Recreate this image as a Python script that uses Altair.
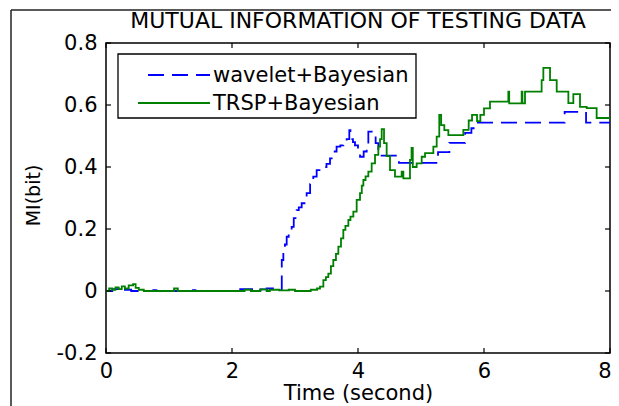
import altair as alt
import pandas as pd

# ---------------- data ----------------
series_names = ["wavelet+Bayesian", "TRSP+Bayesian"]
series_colors = ["#0000ff", "#008000"]

wave_t = [0.0, 0.1, 0.2, 0.3, 0.4, 0.75, 0.8, 1.38, 1.42, 2.13, 2.35, 2.45, 2.55, 2.72,
          2.79, 2.815, 2.84, 2.868, 2.9, 2.947, 2.98, 3.026, 3.06, 3.106, 3.15, 3.185,
          3.24, 3.29, 3.344, 3.423, 3.5, 3.556, 3.61, 3.66, 3.72, 3.767, 3.82, 3.862,
          3.88, 3.92, 3.952, 4.0, 4.032, 4.09, 4.138, 4.164, 4.243, 4.28, 4.323, 4.65,
          5.27, 5.45, 5.7, 5.8, 5.88, 7.28, 7.62, 8.0]
wave_v = [0.0, 0.006, 0.012, 0.004, 0.0, 0.003, 0.0, 0.003, 0.0, 0.006, 0.002, 0.005, 0.008, 0.003,
          0.10, 0.13, 0.15, 0.175, 0.19, 0.207, 0.235, 0.261, 0.27, 0.283, 0.30, 0.316,
          0.345, 0.369, 0.39, 0.40, 0.41, 0.428, 0.45, 0.466, 0.47, 0.477, 0.49, 0.519,
          0.49, 0.48, 0.47, 0.45, 0.433, 0.45, 0.47, 0.514, 0.50, 0.477, 0.437, 0.413,
          0.448, 0.478, 0.51, 0.525, 0.543, 0.578, 0.543, 0.543]

trsp_t = [0.0, 0.05, 0.1, 0.15, 0.2, 0.25, 0.3, 0.36, 0.43, 0.47, 0.52, 0.6, 1.08, 1.14,
          2.2, 2.3, 2.45, 2.55, 2.6, 2.75, 2.9, 3.0, 3.25, 3.35, 3.397, 3.45, 3.49, 3.529,
          3.57, 3.608, 3.65, 3.688, 3.73, 3.767, 3.8, 3.847, 3.88, 3.926, 3.979, 4.032,
          4.06, 4.085, 4.12, 4.164, 4.217, 4.27, 4.323, 4.35, 4.376, 4.413, 4.455, 4.508,
          4.587, 4.693, 4.72, 4.825, 4.85, 4.87, 4.931, 5.011, 5.064, 5.196, 5.249, 5.29,
          5.32, 5.37, 5.434, 5.672, 5.757, 5.81, 5.889, 5.942, 6.0, 6.095, 6.386, 6.40,
          6.598, 6.61, 6.651, 6.915, 6.942, 7.048, 7.154, 7.339, 7.418, 7.524, 7.63, 7.788, 8.0]
trsp_v = [0.0, 0.008, 0.004, 0.012, 0.006, 0.015, 0.008, 0.018, 0.022, 0.01, 0.004, 0.0, 0.008, 0.0,
          0.004, 0.0, 0.005, 0.0, 0.004, 0.002, 0.004, 0.0, 0.004, 0.008, 0.014, 0.035, 0.045, 0.056,
          0.08, 0.10, 0.12, 0.143, 0.17, 0.197, 0.21, 0.229, 0.24, 0.256, 0.294, 0.316,
          0.34, 0.358, 0.37, 0.385, 0.412, 0.439, 0.466, 0.49, 0.522, 0.477, 0.435, 0.39,
          0.369, 0.385, 0.363, 0.423, 0.462, 0.40, 0.412, 0.433, 0.445, 0.466, 0.498, 0.568,
          0.535, 0.519, 0.503, 0.52, 0.55, 0.568, 0.548, 0.568, 0.589, 0.611, 0.643, 0.605,
          0.643, 0.605, 0.643, 0.68, 0.72, 0.68, 0.643, 0.606, 0.635, 0.594, 0.59, 0.558, 0.558]

x_ticks = [0, 2, 4, 6, 8]
y_ticks = [-0.2, 0, 0.2, 0.4, 0.6, 0.8]
chart_title = "MUTUAL INFORMATION OF TESTING DATA"
x_title = "Time (second)"
y_title = "MI(bit)"

# ---------------- chart ----------------
W, H = 504, 310
FONT = "DejaVu Sans"
LW = 1.8

wave_df = pd.DataFrame({"t": wave_t, "v": wave_v})
trsp_df = pd.DataFrame({"t": trsp_t, "v": trsp_v})
xt_df = pd.DataFrame({"t": x_ticks})
yt_df = pd.DataFrame({"v": y_ticks})
one = pd.DataFrame({"k": [0]})

xs = alt.Scale(domain=[0, 8], nice=False, zero=False)
ys = alt.Scale(domain=[-0.2, 0.8], nice=False, zero=False)

x_axis = alt.Axis(values=x_ticks, format="d", title=x_title, ticks=False, tickSize=0,
                  domain=False, grid=False, labelFlush=False, labelFont=FONT,
                  labelAlign={"condition": {"test": "datum.value == 8", "value": "right"},
                              "value": "center"},
                  labelOffset={"condition": {"test": "datum.value == 8", "value": 1},
                               "value": 0},
                  labelFontSize=21, labelColor="#000", labelPadding=7,
                  titleFont=FONT, titleFontSize=21, titleFontWeight="normal",
                  titleColor="#000", titleY=46, titleBaseline="alphabetic")
y_axis = alt.Axis(values=y_ticks,
                  labelExpr="datum.value == 0 ? '0' : (datum.value < 0 ? '-' : '') + format(abs(datum.value), '.1f')",
                  title=y_title, ticks=False, tickSize=0, domain=False, grid=False,
                  labelFlush=False, labelOverlap=False, labelFont=FONT, labelFontSize=21,
                  labelColor="#000", labelPadding=9, titleFont=FONT, titleFontSize=19,
                  titleFontWeight="normal", titleColor="#000", titleX=-73, titleY=152,
                  titleBaseline="middle")

X = alt.X("t:Q", scale=xs, axis=x_axis)
Y = alt.Y("v:Q", scale=ys, axis=y_axis)

wave_line = alt.Chart(wave_df).mark_line(
    color=series_colors[0], strokeDash=[16, 8], interpolate="step-after", strokeWidth=LW
).encode(x=X, y=Y)
trsp_line = alt.Chart(trsp_df).mark_line(
    color=series_colors[1], interpolate="step-after", strokeWidth=LW
).encode(x=X, y=Y)

tick_style = dict(color="#000", strokeWidth=1.2)
bottom_ticks = alt.Chart(xt_df).mark_rule(**tick_style).encode(x=X, y=alt.value(H), y2=alt.value(H - 5))
top_ticks = alt.Chart(xt_df).mark_rule(**tick_style).encode(x=X, y=alt.value(0), y2=alt.value(5))
left_ticks = alt.Chart(yt_df).mark_rule(**tick_style).encode(y=Y, x=alt.value(0), x2=alt.value(5))
right_ticks = alt.Chart(yt_df).mark_rule(**tick_style).encode(y=Y, x=alt.value(W), x2=alt.value(W - 5))

legend_box = alt.Chart(one).mark_rect(fill="white", stroke="#000", strokeWidth=1.3).encode(
    x=alt.value(12), x2=alt.value(310), y=alt.value(11), y2=alt.value(75))
leg_wave = alt.Chart(one).mark_rule(color=series_colors[0], strokeDash=[16, 8], strokeWidth=LW).encode(
    x=alt.value(42), x2=alt.value(104), y=alt.value(32))
leg_trsp = alt.Chart(one).mark_rule(color=series_colors[1], strokeWidth=LW).encode(
    x=alt.value(32), x2=alt.value(104), y=alt.value(60))
text_style = dict(align="left", baseline="middle", font=FONT, fontSize=21, color="#000")
leg_wave_t = alt.Chart(one).mark_text(**text_style).encode(
    x=alt.value(107), y=alt.value(33), text=alt.value(series_names[0]))
leg_trsp_t = alt.Chart(one).mark_text(**text_style).encode(
    x=alt.value(107), y=alt.value(61), text=alt.value(series_names[1]))

title_mark = alt.Chart(one).mark_text(align="center", baseline="alphabetic", font=FONT,
                                      fontSize=22, color="#000").encode(
    x=alt.value(W / 2), y=alt.value(-15), text=alt.value(chart_title))

frame_left = alt.Chart(one).mark_rule(color="#222", strokeWidth=1.5).encode(
    x=alt.value(-95), y=alt.value(-33), y2=alt.value(363))
frame_top = alt.Chart(one).mark_rule(color="#222", strokeWidth=1.5).encode(
    x=alt.value(-95), x2=alt.value(513), y=alt.value(-33))

chart = alt.layer(
    wave_line, trsp_line, bottom_ticks, top_ticks, left_ticks, right_ticks,
    legend_box, leg_wave, leg_trsp, leg_wave_t, leg_trsp_t, title_mark,
    frame_left, frame_top
).properties(
    width=W, height=H,
    autosize=alt.AutoSizeParams(type="none"),
    padding={"left": 98, "top": 35, "right": 1, "bottom": 53},
    background="white",
).configure_view(stroke="#000", strokeWidth=1.5)

chart.save("out.html", embed_options={"renderer": "svg", "actions": False})
